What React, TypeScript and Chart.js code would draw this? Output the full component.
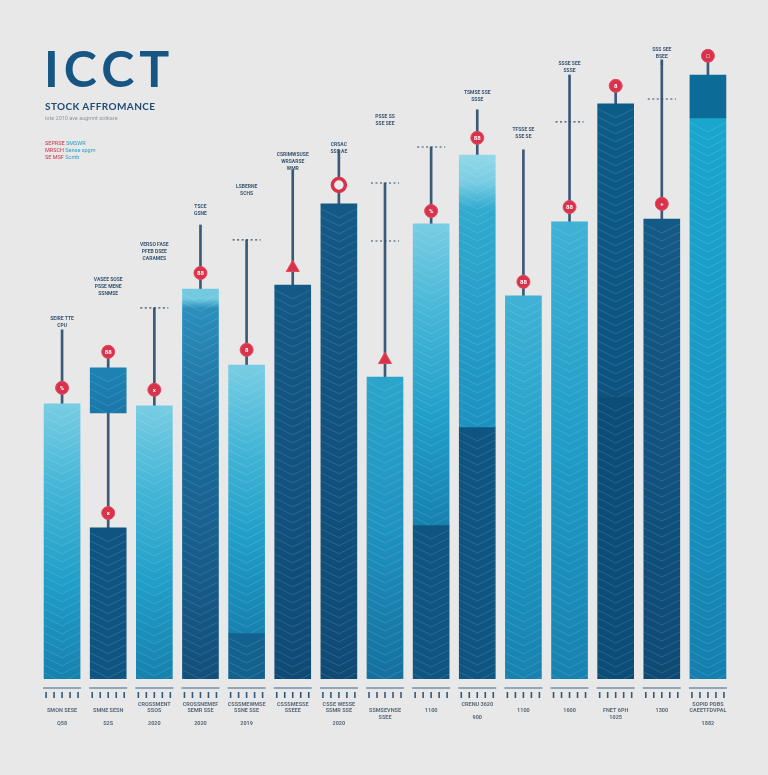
import React, { useEffect, useRef } from "react";
import { Chart, registerables } from "chart.js";

Chart.register(...registerables);

// ---------------- DATA ----------------
const categories = ["P1", "P2", "P3", "P4", "P5", "P6", "P7", "P8", "P9", "P10", "P11", "P12", "P13", "P14", "P15"];

const xLabels: string[][] = [
  ["", "SMON SESE", "", "Q58"],
  ["", "SMNE SESN", "", "S2S"],
  ["CROSSMENT", "SSOS", "", "2020"],
  ["CROSSNEMEF", "SEMR SSE", "", "2020"],
  ["CSSSMEWMSE", "SSNE SSE", "", "2019"],
  ["CSSSMESSE", "SSEEE", "", ""],
  ["CSSE WESSE", "SSMR SSE", "", "2020"],
  ["", "SSMSEVNSE", "SSEE", ""],
  ["", "1100", "", ""],
  ["CRENU 3620", "", "900", ""],
  ["", "1100", "", ""],
  ["", "1600", "", ""],
  ["", "FNET 6PH", "1025", ""],
  ["", "1300", "", ""],
  ["SOPID PDBS", "CAEETFDVPAL", "", "1882"],
];

const upperRange: [number, number][] = [
  [0, 68.8], [66.5, 77.8], [0, 68.3], [0, 97.5], [11.5, 78.5],
  [0, 98.5], [0, 118.8], [0, 75.5], [38.5, 113.8], [63, 131],
  [0, 95.8], [0, 114.3], [70.5, 143.8], [0, 115], [0, 140.3],
];

const baseTop: (number | null)[] = [
  null, 37.8, null, null, 11.5, null, null, null, 38.5, 63, null, null, 70.5, null, null,
];

const capRange: ([number, number] | null)[] = [
  null, null, null, null, null, null, null, null, null, null, null, null, null, null, [140.3, 151],
];

const whiskerRange: [number, number][] = [
  [68.8, 87.3], [37.8, 81.8], [68.3, 92.8], [97.5, 113.5], [78.5, 109.8],
  [98.5, 127.3], [118.8, 132.3], [75.5, 124], [113.8, 133], [131, 142.3],
  [95.8, 132.3], [114.3, 151], [143.8, 148.3], [115, 154.8], [151, 155.8],
];

const markerValue: number[] = [
  72.8, 81.8, 72.3, 101.5, 82.3, 102.8, 123.5, 79.8, 117, 135.3, 99.3, 118, 148.3, 118.8, 155.8,
];
const lowerMarker: (number | null)[] = [
  null, 41.5, null, null, null, null, null, null, null, null, null, null, null, null, null,
];
const markerGlyph: string[] = [
  "%", "88", "x", "88", "8", "", "", "", "%", "88", "88", "88", "8", "+", "□",
];

const dashLevels: number[][] = [
  [], [], [92.8], [], [109.8], [], [], [124, 109.5], [133], [], [], [139.3], [], [145], [],
];

const noteLevel: (number | null)[] = [
  87.3, 95.3, 104, 115.3, 120.3, 126.5, 130.8, 137.8, null, 143.8, 134.5, 151, null, 152.8, null,
];
const noteText: string[][] = [
  ["SEIRE TTE", "CPU"],
  ["VASEE SOSE", "PSSE MENE", "SSNMSE"],
  ["VERSO FASE", "PFEB DSEE", "CARAMES"],
  ["TSCE", "GSNE"],
  ["LSBERNE", "SCHS"],
  ["CSRIMWSUSE", "WRSARSE", "WMR"],
  ["CRSAC", "SSS AE"],
  ["PSSE SS", "SSE SEE"],
  [],
  ["TSMSE SSE", "SSSE"],
  ["TFSSE SE", "SSE SE"],
  ["SSSE SEE", "SSSE"],
  [],
  ["SSS SEE", "BSEE", "S"],
  [],
];

// ---------------- STYLES ----------------
const markerShape = ["circle", "circle", "circle", "circle", "circle", "triangle", "circle", "triangle", "circle", "circle", "circle", "circle", "circle", "circle", "circle"];
const upperStyle = ["light", "box", "light", "darkTop", "light", "navy", "navy", "teal", "light", "stripe", "cyan", "cyan", "blue", "navy", "body"];

const gradStops: Record<string, [number, string][]> = {
  light: [[0, "#78cde3"], [0.3, "#45b6d7"], [0.65, "#209ec8"], [1, "#1681af"]],
  cyan: [[0, "#3fb2d5"], [0.5, "#1f9cc7"], [1, "#1782b0"]],
  box: [[0, "#1d82b3"], [1, "#1a78a9"]],
  darkTop: [[0, "#72c9e0"], [0.025, "#72c9e0"], [0.05, "#2b8fbd"], [0.35, "#1b6c9c"], [1, "#134f7b"]],
  navy: [[0, "#145a87"], [1, "#0f4a75"]],
  teal: [[0, "#2ba5cb"], [0.5, "#1f93c0"], [1, "#14709f"]],
  stripe: [[0, "#93d8e9"], [0.1, "#79cde3"], [0.2, "#31aad0"], [1, "#1b92c0"]],
  blue: [[0, "#0d5c88"], [1, "#0c5380"]],
  body: [[0, "#1aa6cd"], [0.6, "#1996c3"], [1, "#147fae"]],
};

function makeGrad(chart: any, lo: number, hi: number, key: string) {
  const y = chart.scales.y;
  const top = y.getPixelForValue(hi);
  const bot = y.getPixelForValue(lo);
  const g = chart.ctx.createLinearGradient(0, top, 0, bot);
  for (const [o, c] of gradStops[key]) g.addColorStop(o, c);
  return g;
}

const chevronPlugin = {
  id: "chevrons",
  afterDatasetDraw(chart: any, args: any) {
    const ds = chart.data.datasets[args.index];
    if (!ds._chevron) return;
    const ctx = chart.ctx;
    args.meta.data.forEach((el: any, i: number) => {
      const raw = ds.data[i];
      if (!raw) return;
      const { x, y, base, width } = el.getProps(["x", "y", "base", "width"], true);
      const left = x - width / 2;
      const right = x + width / 2;
      const top = Math.min(y, base);
      const bottom = Math.max(y, base);
      if (bottom - top < 12) return;
      ctx.save();
      ctx.beginPath();
      ctx.rect(left, top, width, bottom - top);
      ctx.clip();
      ctx.strokeStyle = "rgba(255,255,255,0.13)";
      ctx.lineWidth = 1;
      for (let yy = top + 14; yy < bottom + 10; yy += 8) {
        ctx.beginPath();
        ctx.moveTo(left, yy - 9);
        ctx.lineTo(x, yy);
        ctx.lineTo(right, yy - 9);
        ctx.stroke();
      }
      ctx.restore();
    });
  },
};

const decorPlugin = {
  id: "decor",
  afterDraw(chart: any) {
    const ctx = chart.ctx;
    const xs = chart.scales.x;
    const ys = chart.scales.y;
    const area = chart.chartArea;
    ctx.save();
    categories.forEach((_, i) => {
      const x = xs.getPixelForValue(i);
      // axis decoration
      const y0 = area.bottom + 9;
      ctx.strokeStyle = "#3c6587";
      ctx.lineWidth = 1.2;
      ctx.setLineDash([]);
      ctx.beginPath();
      ctx.moveTo(x - 19, y0);
      ctx.lineTo(x + 19, y0);
      ctx.stroke();
      ctx.lineWidth = 1.6;
      ctx.strokeStyle = "#2d5a80";
      for (let k = -2; k <= 2; k++) {
        ctx.beginPath();
        ctx.moveTo(x + k * 8, y0 + 4);
        ctx.lineTo(x + k * 8, y0 + 10);
        ctx.stroke();
      }
      // dashed levels
      ctx.strokeStyle = "#2d4d6b";
      ctx.lineWidth = 1.2;
      ctx.setLineDash([2, 2.5]);
      dashLevels[i].forEach((v) => {
        const yy = ys.getPixelForValue(v);
        ctx.beginPath();
        ctx.moveTo(x - 14, yy);
        ctx.lineTo(x + 14, yy);
        ctx.stroke();
      });
      ctx.setLineDash([]);
      // marker glyphs
      const g = markerGlyph[i];
      if (g && markerShape[i] === "circle" && i !== 6) {
        ctx.fillStyle = "#ffffff";
        ctx.font = "bold 6px Roboto";
        ctx.textAlign = "center";
        ctx.textBaseline = "middle";
        ctx.fillText(g, x, ys.getPixelForValue(markerValue[i]) + 0.5);
      }
      const lm = lowerMarker[i];
      if (lm !== null) {
        ctx.fillStyle = "#ffffff";
        ctx.font = "bold 6px Roboto";
        ctx.textAlign = "center";
        ctx.textBaseline = "middle";
        ctx.fillText("x", x, ys.getPixelForValue(lm) + 0.5);
      }
      // notes
      const lvl = noteLevel[i];
      if (lvl !== null) {
        const lines = noteText[i];
        const yb = ys.getPixelForValue(lvl) - 3;
        ctx.fillStyle = "#3a5672";
        ctx.font = "bold 5px Roboto";
        ctx.textAlign = "center";
        ctx.textBaseline = "alphabetic";
        lines.forEach((t, k) => {
          ctx.fillText(t, x, yb - (lines.length - 1 - k) * 7);
        });
      }
    });
    ctx.restore();
  },
};

export default function App() {
  const ref = useRef<HTMLCanvasElement | null>(null);

  useEffect(() => {
    document.body.style.margin = "0";
    document.body.style.background = "#e8e8e8";
    const canvas = ref.current;
    if (!canvas) return;

    const chart = new Chart(canvas, {
      type: "bar",
      data: {
        labels: xLabels,
        datasets: [
          {
            type: "line",
            label: "Markers",
            data: markerValue,
            showLine: false,
            order: 0,
            pointStyle: markerShape as any,
            pointRadius: markerShape.map((s) => (s === "triangle" ? 7.5 : 6.5)),
            pointBackgroundColor: markerValue.map((_, i) => (i === 6 ? "#ececec" : "#d8334a")),
            pointBorderColor: markerValue.map((_, i) => (i === 6 ? "#d8334a" : "#e04a5e")),
            pointBorderWidth: markerValue.map((_, i) => (i === 6 ? 3.5 : 1)),
          } as any,
          {
            type: "line",
            label: "Low markers",
            data: lowerMarker,
            showLine: false,
            order: 0,
            pointRadius: 6.5,
            pointBackgroundColor: "#d8334a",
            pointBorderColor: "#e04a5e",
          } as any,
          {
            label: "Cap",
            data: capRange as any,
            order: 1,
            barThickness: 36,
            backgroundColor: "#0c6b97",
          },
          {
            label: "Upper",
            data: upperRange as any,
            order: 1,
            barThickness: 36,
            _chevron: true,
            backgroundColor: (c: any) => {
              const chart = c.chart;
              const raw = c.raw as [number, number];
              if (!chart.chartArea || !raw) return "#1f9cc7";
              return makeGrad(chart, raw[0], raw[1], upperStyle[c.dataIndex]);
            },
          } as any,
          {
            label: "Base",
            data: baseTop.map((v) => (v === null ? null : [0, v])) as any,
            order: 1,
            barThickness: 36,
            _chevron: true,
            backgroundColor: (c: any) => {
              const i = c.dataIndex;
              if (i === 12) return "#0c4d78";
              if (i === 4) return "#12618f";
              return "#0f5581";
            },
          } as any,
          {
            label: "Range",
            data: whiskerRange as any,
            order: 2,
            barThickness: 2,
            backgroundColor: "#3a5a78",
          },
        ],
      },
      options: {
        animation: false,
        responsive: false,
        maintainAspectRatio: false,
        layout: { padding: { left: 39, right: 37, top: 39, bottom: 34 } },
        plugins: { legend: { display: false }, tooltip: { enabled: false }, title: { display: false } },
        scales: {
          x: {
            stacked: true,
            grid: { display: false, drawTicks: false },
            border: { display: false },
            ticks: {
              color: "#5a6b7c",
              font: { size: 5.5, family: "Roboto", weight: "bold" },
              padding: 22,
              maxRotation: 0,
              autoSkip: false,
            },
            afterFit: (s: any) => {
              s.height = 62;
            },
          },
          y: {
            stacked: false,
            display: false,
            min: 0,
            max: 160,
          },
        },
      },
      plugins: [chevronPlugin, decorPlugin],
    });

    return () => chart.destroy();
  }, []);

  const tiny: React.CSSProperties = { fontFamily: "Roboto", fontSize: 5.5, lineHeight: "7px", whiteSpace: "nowrap" };

  return (
    <div style={{ position: "fixed", left: 0, top: 0, width: 768, height: 775, background: "#e8e8e8", overflow: "hidden" }}>
      <canvas ref={ref} width={768} height={775} style={{ position: "absolute", left: 0, top: 0 }} />
      <div style={{ position: "absolute", left: 44, top: 43, fontFamily: "Lato", fontWeight: 700, fontSize: 50, lineHeight: "50px", color: "#175583", letterSpacing: 5 }}>
        ICCT
      </div>
      <div style={{ position: "absolute", left: 45, top: 101, fontFamily: "Lato", fontWeight: 700, fontSize: 10, lineHeight: "11px", color: "#1f4b74", letterSpacing: 0.4 }}>
        STOCK AFFROMANCE
      </div>
      <div style={{ ...tiny, position: "absolute", left: 45, top: 115, color: "#8c98a4" }}>lote 2010 ave augmnt sotkare</div>
      <div style={{ position: "absolute", left: 45, top: 140 }}>
        <div style={tiny}><span style={{ color: "#c8334b" }}>SEPRSE</span> <span style={{ color: "#2aa0c8" }}>SMSWR</span></div>
        <div style={tiny}><span style={{ color: "#c8334b" }}>MRSCH</span> <span style={{ color: "#2aa0c8" }}>Sense spgm</span></div>
        <div style={tiny}><span style={{ color: "#c8334b" }}>SE MSF</span> <span style={{ color: "#2aa0c8" }}>Scmb</span></div>
      </div>
    </div>
  );
}
